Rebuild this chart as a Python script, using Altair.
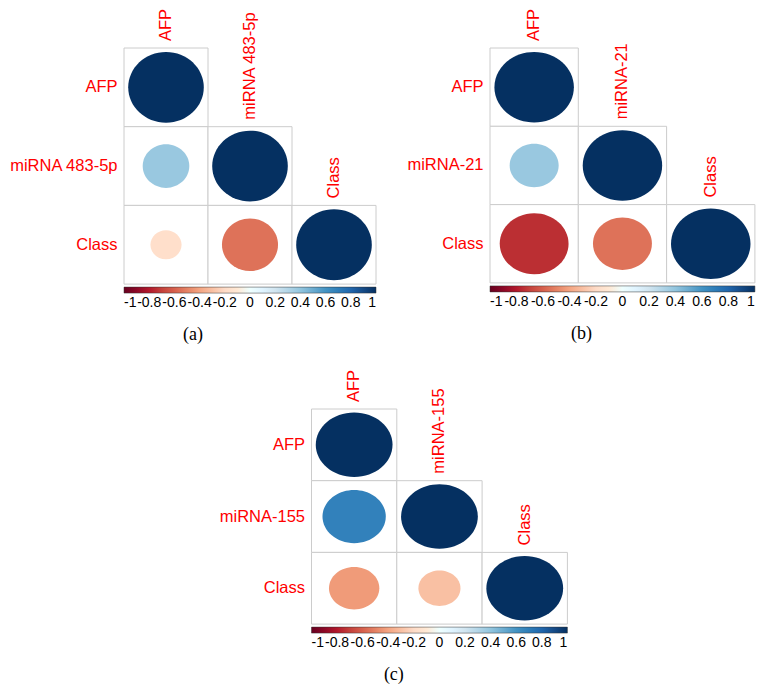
import altair as alt
import pandas as pd

# ---- data ----
vars_a = ["AFP", "miRNA 483-5p", "Class"]
vars_b = ["AFP", "miRNA-21", "Class"]
vars_c = ["AFP", "miRNA-155", "Class"]
# lower-triangle correlations in order (0,0),(1,0),(1,1),(2,0),(2,1),(2,2)
corr_a = [1, 0.38, 1, -0.17, -0.55, 1]
corr_b = [1, 0.38, 1, -0.75, -0.55, 1]
corr_c = [1, 0.68, 1, -0.43, -0.30, 1]
captions = ["(a)", "(b)", "(c)"]
bar_ticks = [-1, -0.8, -0.6, -0.4, -0.2, 0, 0.2, 0.4, 0.6, 0.8, 1]
palette = ["#67001F", "#B2182B", "#D6604D", "#F4A582", "#FDDBC7", "#FFFFFF",
           "#D1E5F0", "#92C5DE", "#4393C3", "#2166AC", "#053061"]

FONT = "Liberation Sans"
LABEL_SIZE = 16.5


def panel(vars_, corr, caption, cw, ch):
    recs = []
    k = 0
    for i in range(3):
        for j in range(i + 1):
            recs.append(dict(row=vars_[i], col=vars_[j], r=corr[k], a=abs(corr[k])))
            k += 1
    df = pd.DataFrame(recs)
    diag = df[df.row == df.col]
    W, H = 3 * cw, 3 * ch

    def xs():
        return alt.X("col:N", sort=vars_, axis=None,
                     scale=alt.Scale(paddingInner=0, paddingOuter=0))

    def ys(**kw):
        return alt.Y("row:N", sort=vars_,
                     scale=alt.Scale(paddingInner=0, paddingOuter=0),
                     axis=alt.Axis(title=None, ticks=False, domain=False, grid=False,
                                   labelColor="red", labelFontSize=LABEL_SIZE,
                                   labelFont=FONT, labelPadding=7),
                     **kw)

    cells = alt.Chart(df).mark_rect(fill="white", stroke="#cccccc", strokeWidth=1).encode(
        x=xs(), y=ys())

    ry = round(ch / cw, 4)
    path = f"M -1 0 A 1 {ry} 0 1 0 1 0 A 1 {ry} 0 1 0 -1 0 Z"
    circ = alt.Chart(df).mark_point(shape=path, filled=True, opacity=1, strokeWidth=0).encode(
        x=xs(), y=ys(),
        color=alt.Color("r:Q", scale=alt.Scale(domain=bar_ticks, range=palette),
                        legend=alt.Legend(orient="none", legendX=0, legendY=H + 3,
                                          direction="horizontal", gradientLength=W,
                                          gradientThickness=6, title=None,
                                          values=bar_ticks,
                                          labelExpr="'' + datum.value",
                                          labelFontSize=14, labelFont=FONT,
                                          labelColor="black", labelAlign="center",
                                          labelOverlap=False,
                                          gradientStrokeColor="#333333",
                                          gradientStrokeWidth=0.5,
                                          labelOffset=3, padding=0)),
        size=alt.Size("a:Q", scale=alt.Scale(domain=[0, 1], range=[0, (0.9 * cw) ** 2]),
                      legend=None),
    )

    labels = alt.Chart(diag).mark_text(angle=270, align="left", baseline="middle", dx=7,
                                       color="red", fontSize=LABEL_SIZE, font=FONT).encode(
        x=xs(), y=ys(bandPosition=0), text="col:N")

    return alt.layer(cells, circ, labels).properties(
        width=W, height=H,
        view=alt.ViewBackground(stroke=None, strokeOpacity=0),
        title=alt.TitleParams(caption, orient="bottom", anchor="middle", frame="bounds",
                              font="Liberation Serif", fontSize=18, fontWeight="normal",
                              color="black", offset=16))


pa = panel(vars_a, corr_a, captions[0], 84, 78.7)
pb = panel(vars_b, corr_b, captions[1], 88.3, 78.3)
pc = panel(vars_c, corr_c, captions[2], 85.3, 71.7)

top = alt.hconcat(pa, pb, spacing=29).resolve_scale(
    color="independent", size="independent", x="independent", y="independent"
).resolve_legend(color="independent")

chart = alt.vconcat(top, pc, spacing=24, center=True).resolve_scale(
    color="independent", size="independent", x="independent", y="independent"
).resolve_legend(color="independent").properties(
    padding={"left": 0, "top": 0, "right": 0, "bottom": 0},
    background="white",
).configure_view(stroke=None, strokeOpacity=0)

chart.save("out.html", embed_options={"renderer": "svg", "actions": False})
